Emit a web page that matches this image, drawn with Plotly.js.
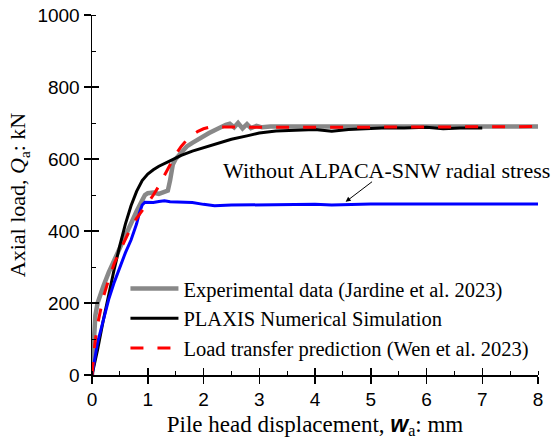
<!DOCTYPE html>
<html><head><meta charset="utf-8">
<script src="https://cdn.plot.ly/plotly-3.0.1.min.js"></script>
<style>html,body{margin:0;padding:0;background:#fff}#chart{width:558px;height:445px}</style>
</head><body><div id="chart"></div>
<script>
var expX = [0,0.02,0.04,0.06,0.1,0.15,0.2,0.3,0.4,0.5,0.6,0.7,0.8,0.9,0.95,1.0,1.1,1.2,1.3,1.36,1.4,1.45,1.5,1.6,1.7,1.8,1.9,2.0,2.1,2.2,2.3,2.4,2.47,2.55,2.62,2.7,2.78,2.85,2.95,3.05,3.2,3.5,4,4.5,5,5.5,6,6.5,7,7.5,8];
var expQ = [0,70,130,165,200,225,245,285,320,355,390,425,455,485,500,505,507,503,508,512,540,585,600,620,635,645,655,665,672,680,688,695,698,688,700,685,697,686,692,688,690,690,688,690,690,690,690,690,690,690,690];
var plxX = [0,0.1,0.2,0.3,0.4,0.5,0.6,0.7,0.8,0.9,1.0,1.1,1.2,1.4,1.6,1.8,2.0,2.2,2.5,2.8,3.0,3.3,3.6,4.0,4.3,4.6,5.0,5.3,5.6,6.0,6.3,6.6,7.0];
var plxQ = [0,70,150,225,295,360,420,470,510,540,558,570,580,595,610,622,632,642,655,665,672,678,680,682,677,682,685,687,686,688,684,686,686];
var ltpX = [0,0.05,0.1,0.2,0.3,0.4,0.5,0.6,0.7,0.8,0.9,1.0,1.1,1.2,1.3,1.4,1.5,1.6,1.7,1.8,1.9,2.0,2.1,2.3,2.6,3,4,5,6,7,8];
var ltpQ = [0,85,140,215,265,310,345,380,410,435,455,478,500,525,555,585,612,635,653,667,677,684,688,689,688,688,688,688,688,688,690];
var noX = [0,0.05,0.1,0.2,0.3,0.4,0.5,0.6,0.7,0.8,0.85,0.9,0.95,1.0,1.1,1.2,1.3,1.4,1.6,1.8,2.0,2.2,2.5,3,3.5,4,4.3,4.6,5,6,7,8];
var noQ = [0,45,90,150,210,258,300,340,375,420,450,472,480,480,479,482,484,481,480,479,474,470,472,473,474,474,472,474,475,475,475,475];
var names = ['Experimental data (Jardine et al. 2023)','PLAXIS Numerical Simulation','Load transfer prediction (Wen et al. 2023)'];

var serif = 'Liberation Serif, Times New Roman, serif';
var sans = 'Liberation Sans, Arial, sans-serif';

var traces = [
  {x: expX, y: expQ, mode: 'lines', name: names[0], line: {color: '#888888', width: 4.5}},
  {x: plxX, y: plxQ, mode: 'lines', name: names[1], line: {color: '#000000', width: 3}},
  {x: noX, y: noQ, mode: 'lines', showlegend: false, line: {color: '#0000ff', width: 3}},
  {x: ltpX, y: ltpQ, mode: 'lines', name: names[2], line: {color: '#ff0000', width: 3, dash: '13px,14px'}},
  {x: [0], y: [0], xaxis: 'x2', yaxis: 'y2', mode: 'markers', marker: {opacity: 0}, showlegend: false, hoverinfo: 'skip'}
];

var layout = {
  width: 558, height: 445,
  margin: {l: 92, r: 20, t: 15, b: 70, autoexpand: false},
  paper_bgcolor: '#fff', plot_bgcolor: '#fff',
  showlegend: true,
  legend: {x: 0.075, y: 0.295, xanchor: 'left', yanchor: 'top', bgcolor: 'rgba(0,0,0,0)',
           font: {family: serif, size: 20.5, color: '#000'}, itemwidth: 48, tracegroupgap: 0},
  xaxis: {range: [0, 8], showgrid: false, zeroline: false, showline: true, linecolor: '#000', linewidth: 1.5,
          ticks: 'outside', ticklen: 7, tickwidth: 1.5, tickcolor: '#000', dtick: 1,
          minor: {ticks: 'inside', ticklen: 4, tickwidth: 1, tickcolor: '#000', dtick: 0.5},
          tickfont: {family: sans, size: 19, color: '#000'},
          title: {text: 'Pile head displacement, <span style="font-family:Liberation Sans;font-weight:bold;font-style:italic">w</span><sub>a</sub>: mm',
                  font: {family: serif, size: 23, color: '#000'}, standoff: 6}},
  yaxis: {range: [0, 1000], showgrid: false, zeroline: false, showline: true, linecolor: '#000', linewidth: 1.5,
          ticks: 'outside', ticklen: 7, tickwidth: 1.5, tickcolor: '#000', dtick: 200,
          minor: {ticks: 'inside', ticklen: 4, tickwidth: 1, tickcolor: '#000', dtick: 100},
          tickfont: {family: sans, size: 19, color: '#000'},
          title: {text: 'Axial load, <i>Q</i><sub>a</sub>: kN', font: {family: serif, size: 22, color: '#000'}, standoff: 5}},
  xaxis2: {overlaying: 'x', range: [0, 8], showgrid: false, zeroline: false, showline: false, showticklabels: false,
           ticks: 'inside', ticklen: 7, tickwidth: 1.5, tickcolor: '#000', dtick: 1, anchor: 'y2', side: 'bottom'},
  yaxis2: {overlaying: 'y', range: [0, 1000], showgrid: false, zeroline: false, showline: false, showticklabels: false,
           ticks: 'inside', ticklen: 7, tickwidth: 1.5, tickcolor: '#000', dtick: 200, anchor: 'x2', side: 'left'},
  annotations: [
    {x: 5.29, y: 569, xref: 'x', yref: 'y', text: 'Without ALPACA-SNW radial stress', showarrow: false,
     font: {family: serif, size: 22, color: '#000'}, xanchor: 'center', yanchor: 'middle'},
    {x: 4.55, y: 481, ax: 5.05, ay: 540, xref: 'x', yref: 'y', axref: 'x', ayref: 'y', text: '',
     showarrow: true, arrowhead: 2, arrowsize: 1, arrowwidth: 1, arrowcolor: '#000'}
  ]
};
Plotly.newPlot('chart', traces, layout, {displayModeBar: false, staticPlot: true});
</script></body></html>
